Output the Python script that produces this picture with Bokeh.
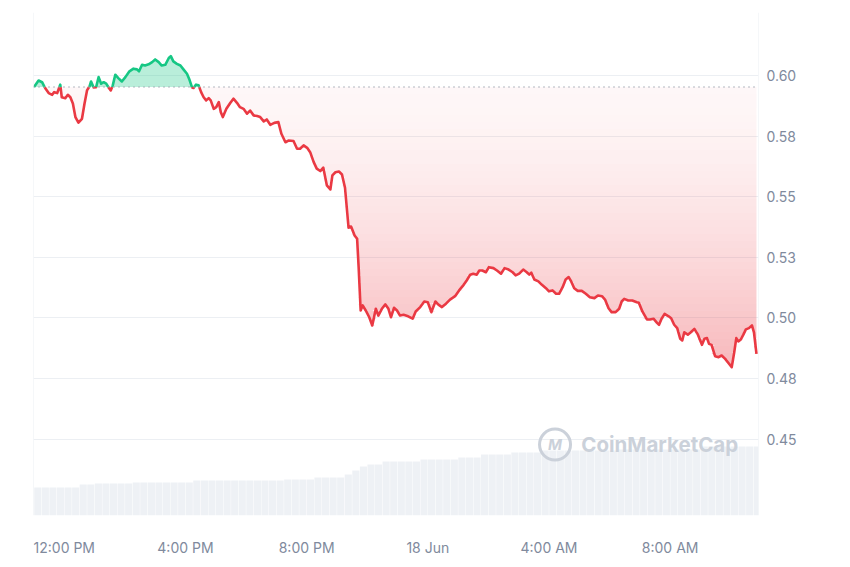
import numpy as np
from bokeh.plotting import figure
from bokeh.models import Range1d, FixedTicker, Span, Label
from bokeh.embed import file_html
from bokeh.resources import INLINE

# ---- data (minutes since 11:00 on 17 Jun, price in USD) ----
times = [
    0, 9, 16, 22, 29, 36, 40, 46, 52, 55,
    62, 67, 72, 77, 82, 88, 95, 100, 105, 110,
    113, 118, 123, 128, 133, 138, 143, 148, 152, 156,
    161, 167, 174, 181, 189, 197, 204, 208, 214, 220,
    227, 234, 240, 247, 253, 260, 267, 271, 276, 283,
    290, 296, 303, 308, 313, 316, 321, 326, 331, 336,
    341, 346, 350, 356, 361, 366, 370, 374, 381, 389,
    395, 402, 408, 415, 422, 428, 435, 442, 448, 455,
    461, 468, 476, 484, 490, 498, 504, 514, 521, 527,
    534, 541, 547, 554, 560, 567, 573, 580, 587, 591,
    597, 604, 610, 616, 620, 623, 628, 635, 640, 643,
    647, 651, 657, 664, 670, 677, 682, 689, 696, 702,
    707, 713, 719, 725, 732, 741, 750, 756, 765, 773,
    780, 787, 795, 801, 808, 816, 824, 834, 842, 851,
    857, 864, 870, 877, 882, 888, 895, 901, 910, 917,
    925, 932, 940, 948, 954, 961, 969, 976, 981, 985,
    991, 999, 1006, 1014, 1020, 1027, 1034, 1040, 1047, 1053,
    1059, 1064, 1070, 1077, 1085, 1093, 1101, 1110, 1117, 1125,
    1131, 1138, 1144, 1152, 1159, 1164, 1169, 1177, 1185, 1194,
    1198, 1205, 1214, 1220, 1227, 1234, 1238, 1243, 1249, 1257,
    1262, 1268, 1274, 1280, 1284, 1288, 1295, 1301, 1308, 1315,
    1323, 1328, 1333, 1337, 1342, 1349, 1356, 1362, 1369, 1375,
    1382, 1387, 1391, 1395, 1400, 1405, 1410, 1416, 1422, 1426,
    1431,
]
prices = [
    0.5954, 0.5981, 0.5974, 0.5950, 0.5929, 0.5922, 0.5933, 0.5929, 0.5964, 0.5912,
    0.5908, 0.5922, 0.5912, 0.5886, 0.5830, 0.5807, 0.5823, 0.5885, 0.5940, 0.5957,
    0.5977, 0.5952, 0.5953, 0.5995, 0.5968, 0.5974, 0.5968, 0.5951, 0.5940, 0.5961,
    0.6005, 0.5991, 0.5977, 0.5995, 0.6019, 0.6030, 0.6027, 0.6019, 0.6046, 0.6043,
    0.6048, 0.6057, 0.6068, 0.6057, 0.6043, 0.6046, 0.6074, 0.6082, 0.6060, 0.6050,
    0.6043, 0.6027, 0.6009, 0.5984, 0.5953, 0.5950, 0.5964, 0.5961, 0.5933, 0.5912,
    0.5899, 0.5908, 0.5899, 0.5864, 0.5871, 0.5892, 0.5850, 0.5830, 0.5864, 0.5889,
    0.5906, 0.5889, 0.5871, 0.5864, 0.5844, 0.5857, 0.5837, 0.5834, 0.5830, 0.5812,
    0.5820, 0.5798, 0.5806, 0.5809, 0.5761, 0.5726, 0.5733, 0.5731, 0.5699, 0.5699,
    0.5713, 0.5703, 0.5685, 0.5644, 0.5617, 0.5607, 0.5621, 0.5548, 0.5531, 0.5589,
    0.5602, 0.5605, 0.5593, 0.5538, 0.5444, 0.5373, 0.5378, 0.5341, 0.5327, 0.5210,
    0.5031, 0.5052, 0.5031, 0.5003, 0.4969, 0.5038, 0.5010, 0.5038, 0.5056, 0.5038,
    0.5003, 0.5042, 0.5031, 0.5010, 0.5013, 0.5007, 0.4997, 0.5027, 0.5045, 0.5068,
    0.5065, 0.5024, 0.5068, 0.5055, 0.5045, 0.5059, 0.5076, 0.5090, 0.5114, 0.5137,
    0.5155, 0.5179, 0.5183, 0.5179, 0.5196, 0.5196, 0.5189, 0.5210, 0.5206, 0.5196,
    0.5183, 0.5206, 0.5200, 0.5189, 0.5176, 0.5183, 0.5200, 0.5189, 0.5179, 0.5187,
    0.5159, 0.5151, 0.5137, 0.5123, 0.5110, 0.5114, 0.5100, 0.5100, 0.5127, 0.5159,
    0.5169, 0.5151, 0.5123, 0.5112, 0.5112, 0.5100, 0.5086, 0.5082, 0.5093, 0.5090,
    0.5076, 0.5040, 0.5024, 0.5024, 0.5038, 0.5068, 0.5079, 0.5072, 0.5072, 0.5065,
    0.5063, 0.5027, 0.4994, 0.4994, 0.4997, 0.4980, 0.4972, 0.4997, 0.5017, 0.5007,
    0.4999, 0.4972, 0.4958, 0.4914, 0.4907, 0.4941, 0.4931, 0.4941, 0.4955, 0.4931,
    0.4889, 0.4914, 0.4917, 0.4893, 0.4889, 0.4842, 0.4838, 0.4845, 0.4831, 0.4815,
    0.4797, 0.4859, 0.4917, 0.4903, 0.4911, 0.4931, 0.4953, 0.4958, 0.4969, 0.4941,
    0.4852,
]
# volume per 15-minute bucket (millions, read approximately)
volume = (
    [14.0] * 6 + [15.5] * 2 + [16.0] * 5 + [16.5] * 8 + [17.5] * 12 + [18.0] * 4
    + [19.0] * 4 + [20.5] + [22.5] + [24.5] + [25.5] * 2 + [27.0] * 5 + [28.0] * 5
    + [29.0] * 3 + [30.5] * 4 + [31.5] * 4 + [32.5] * 10 + [33.0] * 11 + [34.5] * 8
)
vol_bucket_minutes = 15

y_ticks = [0.45, 0.475, 0.50, 0.525, 0.55, 0.575, 0.60]
y_tick_labels = ["0.45", "0.48", "0.50", "0.53", "0.55", "0.58", "0.60"]
x_ticks = [60, 300, 540, 780, 1020, 1260]
x_tick_labels = ["12:00 PM", "4:00 PM", "8:00 PM", "18 Jun", "4:00 AM", "8:00 AM"]

# ---- styles ----
RED = "#ea3943"
GREEN = "#16c784"
LABEL = "#808a9d"
FONT = "Inter"
WM = "#cbd1da"
EDGE = "#eceff3"

t = np.array(times, dtype=float)
pr = np.array(prices, dtype=float)
base = pr[0]

# insert baseline crossings so colours switch exactly at the baseline
ta, pa = [t[0]], [pr[0]]
for i in range(1, len(t)):
    p0, p1 = pr[i - 1], pr[i]
    if (p0 - base) * (p1 - base) < 0:
        f = (base - p0) / (p1 - p0)
        ta.append(t[i - 1] + f * (t[i] - t[i - 1]))
        pa.append(base)
    ta.append(t[i])
    pa.append(pr[i])
ta = np.array(ta)
pa = np.array(pa)

x_range = Range1d(-1, 1435)
p = figure(
    width=834, height=560,
    x_range=x_range, y_range=Range1d(0.4184, 0.6262),
    output_backend="svg", toolbar_location=None,
    y_axis_location="right",
    min_border_left=33, min_border_right=76, min_border_top=12, min_border_bottom=45,
    background_fill_color="white", border_fill_color="white",
)
p.extra_y_ranges = {"vol": Range1d(0, 251.5)}
p.outline_line_color = None

# volume bars
vol_x = [vol_bucket_minutes * (i + 0.5) for i in range(len(volume))]
p.vbar(x=vol_x, top=volume, bottom=0, width=vol_bucket_minutes * 0.94,
       y_range_name="vol", fill_color="#eef1f5", line_color=None)

# red gradient fill below baseline (stacked bands)
pmin = pa.min()
N = 40
edges = np.linspace(base, pmin, N + 1)
for k in range(N):
    hi, lo = edges[k], edges[k + 1]
    frac = (k + 0.5) / N
    a = 0.04 + 0.32 * frac ** 1.5
    y2 = np.clip(pa, lo, hi)
    p.varea(x=ta, y1=np.full_like(pa, hi), y2=y2, fill_color=RED, fill_alpha=a)

# green fill above baseline
p.varea(x=ta, y1=np.full_like(pa, base), y2=np.maximum(pa, base),
        fill_color=GREEN, fill_alpha=0.3)

# frame side edges
p.add_layout(Span(location=x_range.start, dimension="height", line_color=EDGE, line_width=1))
p.add_layout(Span(location=x_range.end, dimension="height", line_color=EDGE, line_width=1))

# baseline
p.add_layout(Span(location=base, dimension="width", line_color="#9aa1ad",
                  line_dash="1 4", line_width=1.5))

# price line split by colour
green_y = np.where(pa >= base, pa, np.nan)
red_y = np.where(pa <= base, pa, np.nan)
p.line(ta, red_y, line_color=RED, line_width=2.6, line_join="round")
p.line(ta, green_y, line_color=GREEN, line_width=2.6, line_join="round")

# watermark
p.scatter(x=[1032], y=[0.4477], marker="circle", size=31, fill_color=None,
          line_color=WM, line_width=3)
p.add_layout(Label(x=1032, y=0.4477, text="M", text_align="center", text_baseline="middle",
                   text_font=FONT, text_font_size="15px", text_font_style="bold italic",
                   text_color=WM))
p.add_layout(Label(x=1084, y=0.4477, text="CoinMarketCap", text_align="left",
                   text_baseline="middle", text_font=FONT, text_font_size="20.5px",
                   text_font_style="bold", text_color=WM))

# axes
p.yaxis.ticker = FixedTicker(ticks=y_ticks)
p.ygrid.ticker = FixedTicker(ticks=y_ticks)
p.yaxis.major_label_overrides = dict(zip(y_ticks, y_tick_labels))
p.xaxis.ticker = FixedTicker(ticks=x_ticks)
p.xaxis.major_label_overrides = dict(zip(x_ticks, x_tick_labels))
for ax in (p.xaxis, p.yaxis):
    ax.axis_line_color = None
    ax.major_tick_line_color = None
    ax.minor_tick_line_color = None
    ax.major_tick_out = 0
    ax.major_label_text_font = FONT
    ax.major_label_text_font_size = "14px"
    ax.major_label_text_color = LABEL
p.yaxis.major_label_standoff = 8
p.xaxis.major_label_standoff = 23
p.xgrid.grid_line_color = None
p.ygrid.grid_line_color = EDGE

open("out.html", "w").write(file_html(p, INLINE))
